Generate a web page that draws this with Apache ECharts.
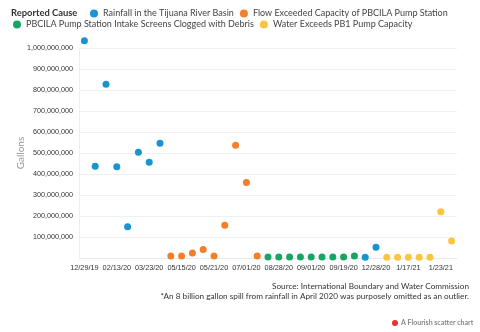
<!DOCTYPE html>
<html>
<head>
<meta charset="utf-8">
<script src="https://cdn.jsdelivr.net/npm/echarts@6/dist/echarts.min.js"></script>
<style>
  html, body { margin: 0; padding: 0; background: #fff; }
  #chart { width: 480px; height: 332px; }
</style>
</head>
<body>
<div id="chart"></div>
<script>
// Reported causes and their colours
const causes = [
  'Rainfall in the Tijuana River Basin',
  'Flow Exceeded Capacity of PBCILA Pump Station',
  'PBCILA Pump Station Intake Screens Clogged with Debris',
  'Water Exceeds PB1 Pump Capacity'
];
const causeColors = ['#1a93d1', '#f47f2a', '#17a566', '#fbc63e'];

// Spill events in date order: cause index and volume (gallons)
const eventCause = [
  0, 0, 0, 0, 0, 0, 0, 0,
  1, 1, 1, 1, 1, 1, 1, 1, 1,
  2, 2, 2, 2, 2, 2, 2, 2, 2,
  0, 0,
  3, 3, 3, 3, 3, 3, 3
];
const eventGallons = [
  1035000000, 437000000, 827000000, 435000000, 149000000, 503000000, 456000000, 546000000,
  10000000, 10000000, 24000000, 40000000, 10000000, 156000000, 537000000, 360000000, 10000000,
  5000000, 5000000, 5000000, 5000000, 5000000, 5000000, 5000000, 5000000, 10000000,
  3000000, 51000000,
  4000000, 4000000, 4000000, 4000000, 4000000, 220000000, 81000000
];

// Date labels shown under every third event
const tickLabels = [
  '12/29/19', '02/13/20', '03/23/20', '05/15/20', '05/21/20', '07/01/20',
  '08/28/20', '09/01/20', '09/19/20', '12/28/20', '1/17/21', '1/23/21'
];

const FONT = 'Lato, "Noto Sans", sans-serif';
const TICK_FONT = '"Liberation Sans", Arial, sans-serif';

const categories = eventCause.map((_, i) => String(i));

const series = causes.map((name, c) => ({
  name: name,
  type: 'scatter',
  symbolSize: 7,
  clip: false,
  itemStyle: { color: causeColors[c], opacity: 1 },
  data: eventGallons
    .map((v, i) => (eventCause[i] === c ? [i, v] : null))
    .filter(d => d !== null)
}));

const legendText = { fontFamily: FONT, fontSize: 9, color: '#444' };

const chart = echarts.init(document.getElementById('chart'), null, { renderer: 'canvas' });
chart.setOption({
  animation: false,
  backgroundColor: '#fff',
  title: {
    text: 'Reported Cause',
    left: 6, top: 3,
    textStyle: { fontFamily: FONT, fontSize: 9.4, fontWeight: 'bold', color: '#333' }
  },
  legend: [
    {
      data: [causes[0], causes[1]],
      left: 85, top: 4, width: 390,
      orient: 'horizontal',
      icon: 'circle', itemWidth: 8, itemHeight: 8, itemGap: 6,
      textStyle: legendText
    },
    {
      data: [causes[2], causes[3]],
      left: 8, top: 15, width: 470,
      orient: 'horizontal',
      icon: 'circle', itemWidth: 8, itemHeight: 8, itemGap: 6,
      textStyle: legendText
    }
  ],
  grid: {
    left: 79, right: 23, top: 48, bottom: 74,
    containLabel: false,
    outerBoundsMode: 'none'
  },
  xAxis: {
    type: 'category',
    data: categories,
    boundaryGap: true,
    axisLine: { show: true, lineStyle: { color: '#eaeaea' } },
    axisTick: { show: false },
    splitLine: { show: false },
    axisLabel: {
      interval: 0,
      margin: 6,
      fontFamily: TICK_FONT, fontSize: 7.3, color: '#333',
      formatter: v => (Number(v) % 3 === 0 ? tickLabels[Number(v) / 3] : '')
    }
  },
  yAxis: {
    type: 'value',
    min: 0, max: 1000000000, interval: 100000000,
    name: 'Gallons',
    nameLocation: 'middle',
    nameGap: 53,
    nameMoveOverlap: false,
    nameTextStyle: { fontFamily: FONT, fontSize: 10, color: '#999' },
    axisLine: { show: true, lineStyle: { color: '#eeeeee' } },
    axisTick: { show: false },
    splitLine: { lineStyle: { color: '#f0f0f0' } },
    axisLabel: {
      showMinLabel: false,
      margin: 6,
      fontFamily: TICK_FONT, fontSize: 7.2, color: '#333',
      formatter: v => v.toLocaleString('en-US')
    }
  },
  series: series,
  graphic: [
    {
      type: 'text', right: 11, top: 282,
      style: {
        text: 'Source: International Boundary and Water Commission',
        fontFamily: FONT, fontSize: 8.2, fill: '#333', textAlign: 'right'
      }
    },
    {
      type: 'text', right: 11, top: 292,
      style: {
        text: '*An 8 billion gallon spill from rainfall in April 2020 was purposely omitted as an outlier.',
        fontFamily: FONT, fontSize: 8.2, fill: '#333', textAlign: 'right'
      }
    },
    {
      type: 'circle', left: 392, top: 320,
      shape: { r: 3 },
      style: { fill: '#e8302f' }
    },
    {
      type: 'text', left: 401, top: 319,
      style: {
        text: 'A Flourish scatter chart',
        fontFamily: FONT, fontSize: 7, fontWeight: 'bold', fill: '#888'
      }
    }
  ]
});
</script>
</body>
</html>
